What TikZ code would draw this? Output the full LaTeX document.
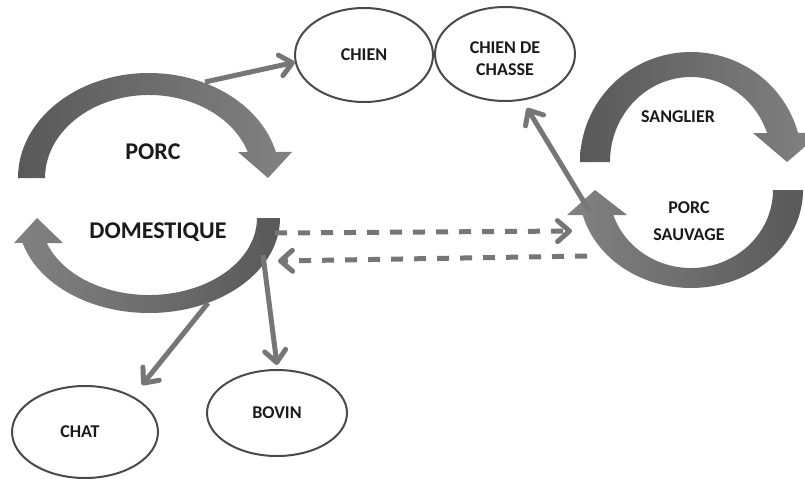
\documentclass[tikz,border=0pt]{standalone}
\usepackage{fontspec}
\setmainfont{Carlito}
\usetikzlibrary{arrows.meta,shapes.geometric}
\definecolor{txt}{HTML}{1A1A1A}
\definecolor{edgegray}{HTML}{4A4A4A}
\definecolor{conngray}{HTML}{767676}
\definecolor{arcdark}{HTML}{595959}
\definecolor{arclight}{HTML}{828282}
\tikzset{
  oval/.style={ellipse, draw=edgegray, line width=2pt, inner sep=0pt, text=txt,
    font=\bfseries\fontsize{18}{22}\selectfont, align=center},
  lbl/.style={text=txt, font=\bfseries\fontsize{18}{27}\selectfont, align=center},
  biglbl/.style={text=txt, font=\bfseries\fontsize{24}{28}\selectfont},
  link/.style={draw=conngray, line width=5pt, -{Straight Barb[length=12pt,width=21pt,round]}},
  dlink/.style={link, dash pattern=on 12pt off 11pt}
}
\begin{document}
\begin{tikzpicture}[x=1pt,y=-1pt]
\useasboundingbox (0,0) rectangle (805,479);
\clip (0,0) rectangle (805,479);

% left circular arrows
\shade[left color=arcdark, right color=arclight]
  (45,178) -- (18,178) arc[start angle=180, end angle=345.6, x radius=131, y radius=105]
  -- (292,152) -- (268,178) -- (238,152) -- (247.8,152)
  arc[start angle=341.75, end angle=180, x radius=104, y radius=83] -- cycle;
\shade[left color=arclight, right color=arcdark]
  (257,218) -- (280,218) arc[start angle=0, end angle=164.8, x radius=131, y radius=95]
  -- (14,243) -- (37,218) -- (63,243) -- (46.8,243)
  arc[start angle=161.06, end angle=0, x radius=108, y radius=77] -- cycle;

% right circular arrows
\shade[left color=arcdark, right color=arclight]
  (610,162) -- (580,162) arc[start angle=180, end angle=344.71, x radius=111, y radius=110]
  -- (821,133) -- (787,162) -- (753,133) -- (767.1,133)
  arc[start angle=340.05, end angle=180, x radius=81, y radius=85] -- cycle;
\shade[left color=arclight, right color=arcdark]
  (773,190) -- (803,190) arc[start angle=0, end angle=165.22, x radius=112, y radius=98]
  -- (567,215) -- (595,190) -- (627,215) -- (613.3,215)
  arc[start angle=161.31, end angle=0, x radius=82, y radius=78] -- cycle;

% labels in the cycles
\node[biglbl] (porc) at (153,152) {PORC};
\node[biglbl] (dom) at (158,232) {DOMESTIQUE};
\node[lbl] (sang) at (678,117) {SANGLIER};
\node[lbl] (psauv) at (689,221) {PORC\\SAUVAGE};

% ellipses
\node[oval, minimum width=138pt, minimum height=94pt] (chien) at (364,55) {CHIEN};
\node[oval, minimum width=140pt, minimum height=94pt] (chasse) at (505,54)
  {\raisebox{-6pt}[\height][\depth]{\begin{tabular}{@{}c@{}}CHIEN DE\\CHASSE\end{tabular}}};
\node[oval, minimum width=146pt, minimum height=92pt] (chat) at (85,432) {\hspace*{-5pt}CHAT\hspace*{5pt}};
\node[oval, minimum width=140pt, minimum height=86pt] (bovin) at (277,413) {BOVIN};

% connector ends
\coordinate (c1) at (205,82);
\coordinate (c2) at (590,212);
\coordinate (c2t) at (527,108);
\coordinate (c3) at (208,303);
\coordinate (c3t) at (142,385);
\coordinate (c4) at (263,255);
\coordinate (c4t) at (277,365);
\coordinate (d1) at (275,233);
\coordinate (d1t) at (572,231);
\coordinate (d2) at (587,256);
\coordinate (d2t) at (278,261);

% connectors
\draw[link] (c1) -- (chien.186);
\draw[link] (c2) -- (c2t);
\draw[link] (c3) -- (c3t);
\draw[link] (c4) -- (c4t);
\draw[dlink] (d1) -- (d1t);
\draw[dlink] (d2) -- (d2t);
\end{tikzpicture}
\end{document}
